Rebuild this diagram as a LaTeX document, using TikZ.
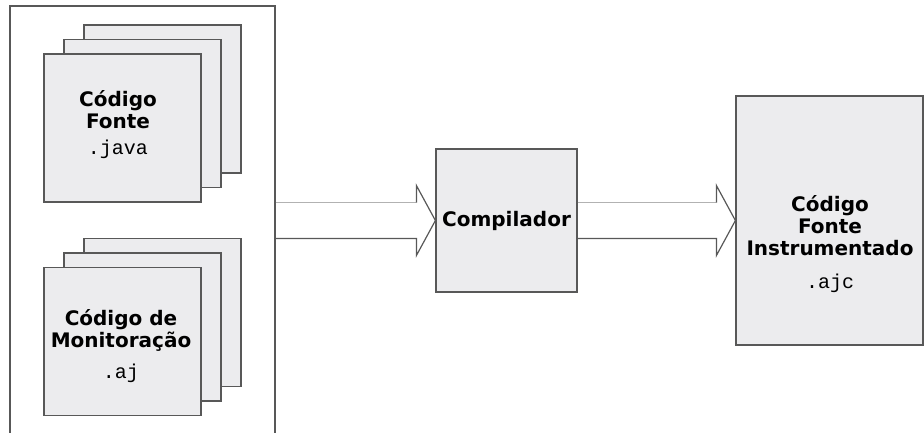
\documentclass[tikz,border=0pt]{standalone}
\usepackage{fontspec}
\setmainfont{DejaVu Sans}
\setmonofont{Liberation Mono}
\usetikzlibrary{calc}

\definecolor{folha}{RGB}{236,236,238}
\definecolor{contorno}{RGB}{88,88,88}

\begin{document}
\begin{tikzpicture}[
    x=1pt, y=-1pt,
    caixa/.style={draw=contorno, line width=1.2pt, fill=folha, inner sep=0pt},
    folhaS/.style={caixa, minimum width=157pt, minimum height=148pt},
    rotulo/.style={align=center, anchor=base, inner sep=0pt,
        font=\fontsize{20}{22}\selectfont\bfseries},
    seta clara/.style={draw=gray!60, line width=1.2pt},
    seta escura/.style={draw=contorno, line width=1.2pt, line join=miter},
    ]

\useasboundingbox (0,0) rectangle (924,432);

\newcommand{\ext}[1]{{\ttfamily\mdseries\fontsize{20}{22}\selectfont #1}}

% seta larga e vazada entre dois nos
\newcommand{\seta}[2]{
  \coordinate (cima) at ($(#2.west)+(-19,-18)$);
  \coordinate (baixo) at ($(#2.west)+(-19,18)$);
  \draw[seta clara] (#1.east |- cima) -- (cima);
  \draw[seta escura] (cima) -- ++(0,-17) -- (#2.west) -- ($(baixo)+(0,17)$)
      -- (baixo) -- (#1.east |- baixo);
}

% moldura dos arquivos de entrada
\node[draw=contorno, line width=1.4pt, fill=white, minimum width=265pt,
    minimum height=439pt] (entrada) at (142.5,225.5) {};

% pilha do codigo fonte
\foreach \k in {2,1,0}
  \node[folhaS] (fonte\k) at (122.5+20*\k, 128-14.5*\k) {};
% (a ancora base fica na ultima linha)
\node[rotulo] (txtFonte) at (118,154) {Código\\Fonte\\[4pt]\ext{.java}};

% pilha do codigo de monitoracao
\foreach \k in {2,1,0}
  \node[folhaS] (monit\k) at (122.5+20*\k, 341.5-14.5*\k) {};
\node[rotulo] (txtMonit) at (121,378) {Código de\\Monitoração\\[9pt]\ext{.aj}};

% compilador e saida
\node[caixa, minimum width=141pt, minimum height=143pt,
    font=\fontsize{20}{22}\selectfont\bfseries] (comp) at (506.5,220.5) {Compilador};
\node[caixa, minimum width=187pt, minimum height=249pt] (saida) at (829.5,220.5) {};
\node[rotulo] (txtSaida) at (830,288)
    {Código\\Fonte\\Instrumentado\\[11pt]\ext{.ajc}};

\seta{entrada}{comp}
\seta{comp}{saida}

\end{tikzpicture}
\end{document}
